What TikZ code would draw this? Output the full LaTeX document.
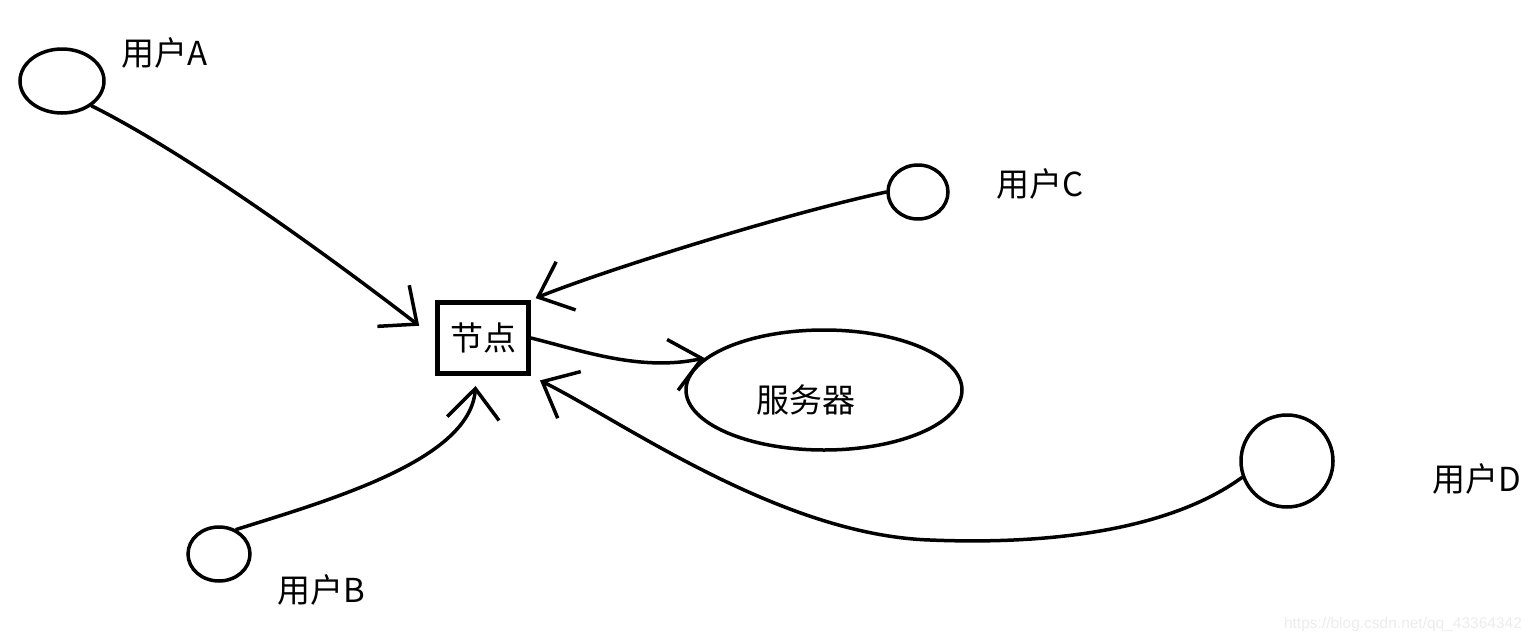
\documentclass[tikz,border=0pt]{standalone}
\usepackage{fontspec}
\setmainfont{Noto Sans CJK SC}
\newfontfamily\wmfont{Liberation Sans}
\usetikzlibrary{shapes.geometric,arrows.meta}

\begin{document}
\begin{tikzpicture}[x=1pt,y=-1pt,line width=3.5pt,
  user/.style={ellipse,draw,inner sep=0pt},
  lbl/.style={font=\fontsize{33}{38}\selectfont},
  link/.style={-{Straight Barb[length=30pt,width=52pt]},line cap=round,line join=round}]
\useasboundingbox (0,0) rectangle (1535,643);
% users around the relay node
\node[user,minimum width=84,minimum height=64] (usrA) at (62,81) {};
\node[user,minimum width=60,minimum height=54] (usrC) at (918,192) {};
\node[user,minimum width=62,minimum height=54] (usrB) at (219,554) {};
\node[user,minimum width=92,minimum height=92] (usrD) at (1287,461) {};

\node[lbl] (labA) at (165,53) {用户A};
\node[lbl] (labC) at (1040,184) {用户C};
\node[lbl] (labB) at (321,590) {用户B};
\node[lbl] (labD) at (1477,479) {用户D};

% relay node and server
\node[draw,line width=5pt,minimum width=91,minimum height=71,lbl] (hub) at (483,338) {节点};
\node[user,minimum width=276,minimum height=120] (srv) at (824,390) {};
\node[lbl] (srvtxt) at (806,400) {服务器};

% connections
\draw[link,shorten >=20pt] (usrA.-40) .. controls (200,160) and (360,280) .. (hub.west);
\draw[link,shorten >=5pt] (usrC.west) .. controls (780,215) and (600,272) .. (hub.north east);
\draw[link,shorten >=10pt] (usrB.55) .. controls (330,500) and (470,460) .. (hub.260);
\draw[link,shorten >=10pt] (usrD.200) .. controls (1170,530) and (1050,545) .. (930,540)
  .. controls (780,535) and (620,420) .. (hub.south east);
\draw[link] (hub.east) .. controls (580,350) and (640,372) .. (srv.165);

\node[text=gray!15,font=\wmfont\fontsize{15.5}{18}\selectfont,anchor=east] (mark) at (1527,624) {https://blog.csdn.net/qq\_43364342};
\end{tikzpicture}
\end{document}
